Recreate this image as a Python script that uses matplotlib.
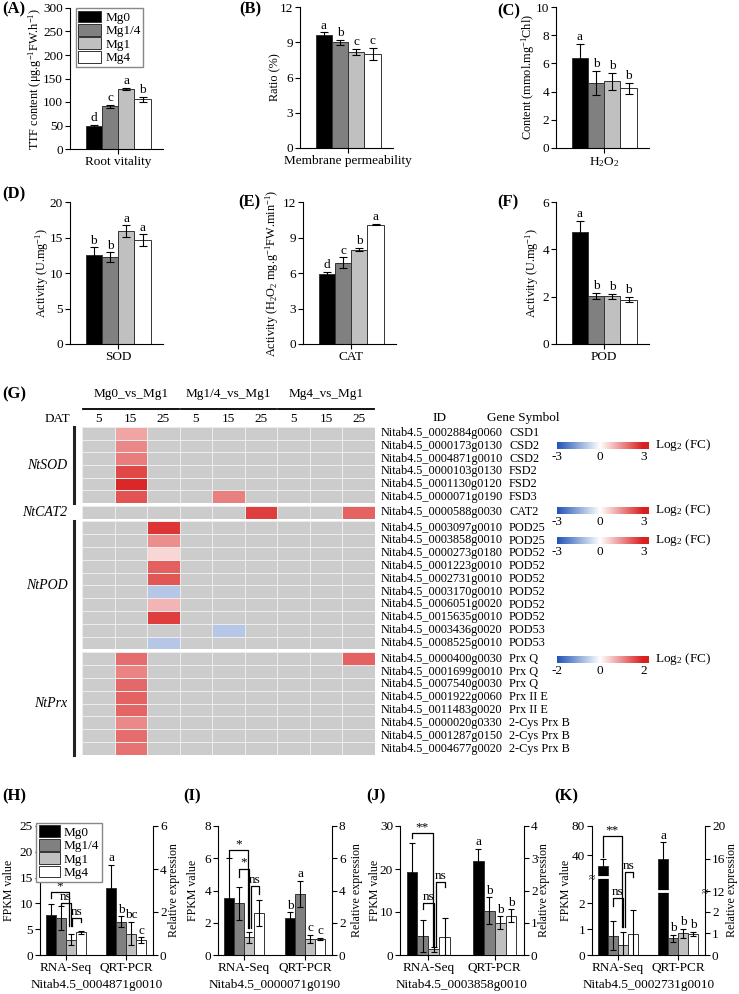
import numpy as np
import matplotlib
matplotlib.use('Agg')
import matplotlib.pyplot as plt
import matplotlib.transforms as mtransforms
from matplotlib.colors import LinearSegmentedColormap, Normalize
from matplotlib.patches import Patch

plt.rcParams['font.family'] = ['Liberation Serif', 'DejaVu Serif']
plt.rcParams['mathtext.fontset'] = 'custom'
plt.rcParams['mathtext.rm'] = 'Liberation Serif'
plt.rcParams['mathtext.it'] = 'Liberation Serif:italic'
plt.rcParams['font.size'] = 9.5
plt.rcParams['axes.linewidth'] = 0.8

# ---- physiology panels (A-F) ----
treatments = ['Mg0', 'Mg1/4', 'Mg1', 'Mg4']
bar_colors = ['#000000', '#808080', '#c0c0c0', '#ffffff']

root_vit = [48, 90.5, 128, 106]
root_err = [3, 3, 1.5, 5]
root_let = ['d', 'c', 'a', 'b']

memb_perm = [9.65, 8.98, 8.2, 8.0]
memb_err = [0.2, 0.2, 0.25, 0.5]
memb_let = ['a', 'b', 'c', 'c']

h2o2 = [6.35, 4.6, 4.72, 4.24]
h2o2_err = [1.05, 0.85, 0.6, 0.4]
h2o2_let = ['a', 'b', 'b', 'b']

sod = [12.5, 12.2, 15.9, 14.6]
sod_err = [1.1, 0.7, 0.8, 0.85]
sod_let = ['b', 'b', 'a', 'a']

cat = [5.9, 6.86, 7.98, 10.09]
cat_err = [0.2, 0.45, 0.15, 0.05]
cat_let = ['d', 'c', 'b', 'a']

pod = [4.74, 2.03, 2.02, 1.88]
pod_err = [0.47, 0.12, 0.1, 0.1]
pod_let = ['a', 'b', 'b', 'b']

# ---- heatmap (G) ----
comparisons = ['Mg0_vs_Mg1', 'Mg1/4_vs_Mg1', 'Mg4_vs_Mg1']
dat_days = ['5', '15', '25']
nan = np.nan

sod_ids = ['0002884g0060', '0000173g0130', '0004871g0010', '0000103g0130', '0001130g0120', '0000071g0190']
sod_sym = ['CSD1', 'CSD2', 'CSD2', 'FSD2', 'FSD2', 'FSD3']
sod_fc = [[nan, 1.2, nan, nan, nan, nan, nan, nan, nan],
          [nan, 1.6, nan, nan, nan, nan, nan, nan, nan],
          [nan, 1.75, nan, nan, nan, nan, nan, nan, nan],
          [nan, 2.45, nan, nan, nan, nan, nan, nan, nan],
          [nan, 2.9, nan, nan, nan, nan, nan, nan, nan],
          [nan, 2.3, nan, nan, 1.7, nan, nan, nan, nan]]

cat_ids = ['0000588g0030']
cat_sym = ['CAT2']
cat_fc = [[nan, nan, nan, nan, nan, 2.6, nan, nan, 2.1]]

pod_ids = ['0003097g0010', '0003858g0010', '0000273g0180', '0001223g0010', '0002731g0010',
           '0003170g0010', '0006051g0020', '0015635g0010', '0003436g0020', '0008525g0010']
pod_sym = ['POD25', 'POD25', 'POD52', 'POD52', 'POD52', 'POD52', 'POD52', 'POD52', 'POD53', 'POD53']
pod_fc = [[nan, nan, 2.7, nan, nan, nan, nan, nan, nan],
          [nan, nan, 1.5, nan, nan, nan, nan, nan, nan],
          [nan, nan, 0.55, nan, nan, nan, nan, nan, nan],
          [nan, nan, 2.15, nan, nan, nan, nan, nan, nan],
          [nan, nan, 2.25, nan, nan, nan, nan, nan, nan],
          [nan, nan, -1.0, nan, nan, nan, nan, nan, nan],
          [nan, nan, 1.0, nan, nan, nan, nan, nan, nan],
          [nan, nan, 2.6, nan, nan, nan, nan, nan, nan],
          [nan, nan, nan, nan, -1.0, nan, nan, nan, nan],
          [nan, nan, -1.0, nan, nan, nan, nan, nan, nan]]

prx_ids = ['0000400g0030', '0001699g0010', '0007540g0030', '0001922g0060', '0011483g0020',
           '0000020g0330', '0001287g0150', '0004677g0020']
prx_sym = ['Prx Q', 'Prx Q', 'Prx Q', 'Prx II E', 'Prx II E', '2-Cys Prx B', '2-Cys Prx B', '2-Cys Prx B']
prx_fc = [[nan, 1.3, nan, nan, nan, nan, nan, nan, 1.4],
          [nan, 1.1, nan, nan, nan, nan, nan, nan, nan],
          [nan, 1.35, nan, nan, nan, nan, nan, nan, nan],
          [nan, 1.4, nan, nan, nan, nan, nan, nan, nan],
          [nan, 1.38, nan, nan, nan, nan, nan, nan, nan],
          [nan, 1.05, nan, nan, nan, nan, nan, nan, nan],
          [nan, 1.3, nan, nan, nan, nan, nan, nan, nan],
          [nan, 1.25, nan, nan, nan, nan, nan, nan, nan]]

# ---- validation panels (H-K): RNA-Seq FPKM and qRT-PCR ----
h_rna = [7.8, 7.1, 3.0, 4.4]
h_rna_err = [2.0, 2.3, 1.1, 0.3]
h_qrt = [3.1, 1.55, 1.0, 0.7]
h_qrt_err = [1.1, 0.25, 0.55, 0.12]
h_let = ['a', 'b', 'bc', 'c']

i_rna = [3.55, 3.2, 1.1, 2.6]
i_rna_err = [2.45, 1.0, 0.35, 0.8]
i_qrt = [2.3, 3.8, 1.0, 1.0]
i_qrt_err = [0.35, 0.8, 0.25, 0.05]
i_let = ['b', 'a', 'c', 'c']

j_rna = [19.3, 4.4, 1.3, 4.3]
j_rna_err = [6.7, 3.8, 0.5, 4.3]
j_qrt = [2.9, 1.37, 1.0, 1.22]
j_qrt_err = [0.4, 0.42, 0.2, 0.2]
j_let = ['a', 'b', 'b', 'b']

k_rna = [25, 0.75, 0.4, 0.8]
k_rna_err = [9.5, 0.55, 0.5, 0.95]
k_qrt = [16.0, 0.77, 1.0, 0.97]
k_qrt_err = [2.0, 0.15, 0.2, 0.1]
k_let = ['a', 'b', 'b', 'b']

W, H = 739, 994
fig = plt.figure(figsize=(W / 100, H / 100), dpi=100)


def box(l, t, r, b):
    return [l / W, 1 - b / H, (r - l) / W, (b - t) / H]


def tag(x, y, s):
    fig.text(x / W, 1 - y / H, s, fontweight='bold', fontsize=12, va='center', ha='left')


def legend_patches():
    return [Patch(facecolor=c, edgecolor='#333333', linewidth=0.7) for c in bar_colors]


def place_ylabel(axis, x):
    axis.set_label_coords(x, 0.5)
    axis.label.set_verticalalignment('center')


def phys_panel(rect, vals, errs, letters, ymax, step, ylabel, xlabel, label_x):
    ax = fig.add_axes(box(*rect))
    x = np.arange(4)
    ax.bar(x, vals, width=1, color=bar_colors, edgecolor='#333333', linewidth=0.7)
    ax.errorbar(x, vals, yerr=errs, fmt='none', ecolor='black', elinewidth=0.8,
                capsize=3, capthick=0.8)
    for xi, v, e, s in zip(x, vals, errs, letters):
        ax.annotate(s, (xi, v + e), xytext=(0, 0.5), textcoords='offset points',
                    ha='center', va='bottom')
    ax.set_xlim(-1.45, 4.25)
    ax.set_ylim(0, ymax)
    ax.set_yticks(np.arange(0, ymax + step / 2, step))
    ax.set_xticks([1.5])
    ax.set_xticklabels([xlabel])
    ax.spines[['top', 'right']].set_visible(False)
    ax.tick_params(direction='out', length=3.5, width=0.8, pad=1.5)
    ax.set_ylabel(ylabel, fontsize=8.8)
    place_ylabel(ax.yaxis, label_x)
    return ax


axA = phys_panel((70, 8, 163, 149), root_vit, root_err, root_let, 300, 50,
                 r'TTF content ($\mathrm{\mu}$g.g$^{\mathrm{-1}}$FW.h$^{\mathrm{-1}}$)', 'Root vitality', -0.37)
axA.legend(handles=legend_patches(), labels=treatments, loc='upper left', bbox_to_anchor=(0.06, 1.0),
           fontsize=9.5, handlelength=1.75, handleheight=1.0, labelspacing=0.0, borderpad=0.2,
           handletextpad=0.3, borderaxespad=0, fancybox=False, edgecolor='#888888', framealpha=1)
phys_panel((300, 7, 393, 148), memb_perm, memb_err, memb_let, 12, 3, 'Ratio (%)',
           'Membrane permeability', -0.263)
phys_panel((556, 7, 649, 148), h2o2, h2o2_err, h2o2_let, 10, 2,
           r'Content (mmol.mg$^{\mathrm{-1}}$Chl)', r'H$_\mathrm{2}$O$_\mathrm{2}$', -0.296)
phys_panel((70, 202, 163, 344), sod, sod_err, sod_let, 20, 5, r'Activity (U.mg$^{\mathrm{-1}}$)', 'SOD', -0.30)
phys_panel((303, 202, 396, 344), cat, cat_err, cat_let, 12, 3,
           r'Activity (H$_\mathrm{2}$O$_\mathrm{2}$ mg.g$^{\mathrm{-1}}$FW.min$^{\mathrm{-1}}$)', 'CAT', -0.328)
phys_panel((556, 202, 649, 344), pod, pod_err, pod_let, 6, 2, r'Activity (U.mg$^{\mathrm{-1}}$)', 'POD', -0.253)

tag(2, 9, '(A)')
tag(239, 9, '(B)')
tag(497, 11, '(C)')
tag(2, 194, '(D)')
tag(238, 202, '(E)')
tag(497, 202, '(F)')
tag(2, 394, '(G)')

# ---- heatmap ----
hm_cmap = LinearSegmentedColormap.from_list('fc', ['#2155b5', '#ffffff', '#d92020']).with_extremes(bad='#cccccc')
hm_fs = 8.8
groups = [('NtSOD', sod_ids, sod_sym, sod_fc, 3, (427, 503), True),
          ('NtCAT2', cat_ids, cat_sym, cat_fc, 3, (505.7, 519), False),
          ('NtPOD', pod_ids, pod_sym, pod_fc, 3, (521.3, 649.3), True),
          ('NtPrx', prx_ids, prx_sym, prx_fc, 2, (652.3, 755), True)]
hm_axes = []
for name, ids, syms, fc, lim, (top, bot), vbar in groups:
    ax = fig.add_axes(box(82, top, 375, bot))
    data = np.array(fc, dtype=float)
    ax.set_facecolor('#cccccc')
    ax.pcolormesh(np.ma.masked_invalid(data), cmap=hm_cmap, norm=Normalize(-lim, lim),
                  edgecolors='#ececec', linewidth=0.6)
    n = data.shape[0]
    ax.set_xlim(0, 9)
    ax.set_ylim(n, 0)
    ax.set_xticks([])
    ax.set_yticks([])
    for s in ax.spines.values():
        s.set_visible(False)
    for i, (gid, sym) in enumerate(zip(ids, syms)):
        ax.text(9.18, i + 0.5, 'Nitab4.5_' + gid, ha='left', va='center', fontsize=hm_fs, clip_on=False)
        ax.text(13.12, i + 0.5, sym, ha='left', va='center', fontsize=hm_fs, clip_on=False)
    ax.text(-0.45, n / 2, name, ha='right', va='center', style='italic', fontsize=10)
    if vbar:
        ax.plot([-0.25, -0.25], [0, n], color='#222222', lw=2.2, clip_on=False)
    hm_axes.append(ax)

axS = hm_axes[0]
for g, comp in enumerate(comparisons):
    axS.text(g * 3 + 1.5, -2.6, comp, ha='center', va='center', fontsize=9.5, clip_on=False)
    axS.plot([g * 3 + 0.03, g * 3 + 2.97], [-1.42, -1.42], color='black', lw=1.3, clip_on=False)
    for d, day in enumerate(dat_days):
        axS.text(g * 3 + d + 0.5, -0.63, day, ha='center', va='center', fontsize=9.5, clip_on=False)
axS.text(-0.77, -0.63, 'DAT', ha='center', va='center', fontsize=9.5, clip_on=False)
axS.text(10.98, -0.7, 'ID', ha='center', va='center', fontsize=9.5, clip_on=False)
axS.text(12.45, -0.7, 'Gene Symbol', ha='left', va='center', fontsize=9.5, clip_on=False)


def fc_bar(top, lim):
    cax = fig.add_axes(box(557, top, 649, top + 7.3))
    xmax = lim + (649 - 643.3) * (2 * lim) / (643.3 - 557)
    grad = np.linspace(-lim, xmax, 300)
    cax.imshow(grad[None, :], extent=[-lim, xmax, 0, 1], aspect='auto', cmap=hm_cmap,
               norm=Normalize(-lim, lim))
    cax.set_xlim(-lim, xmax)
    cax.set_yticks([])
    cax.set_xticks([-lim, 0, lim])
    cax.set_xticklabels(['-%d' % lim, '0', '%d' % lim])
    cax.tick_params(length=0, pad=1.5, labelsize=9.5)
    for s in cax.spines.values():
        s.set_visible(False)
    fig.text(655 / W, 1 - (top + 3.6) / H, r'Log$_\mathrm{2}$ (FC)', va='center', ha='left', fontsize=9.5)


fc_bar(441.7, 3)
fc_bar(506.7, 3)
fc_bar(536.7, 3)
fc_bar(655.7, 2)


# ---- validation panels ----
def brk_scale(lo, hi, k, eps=0.002):
    def fwd(v):
        v = np.asarray(v, dtype=float)
        return np.where(v <= lo, v, np.where(v <= hi, lo + (v - lo) * eps,
                                             lo + (hi - lo) * eps + (v - hi) * k))

    def inv(u):
        u = np.asarray(u, dtype=float)
        u1 = lo + (hi - lo) * eps
        return np.where(u <= lo, u, np.where(u <= u1, lo + (u - lo) / eps, hi + (u - u1) / k))
    return fwd, inv


def expr_panel(rect, rna, rna_e, qrt, qrt_e, letters, lmax, lticks, rmax, rticks, gene, brackets,
               lab_x, lscale=None, rscale=None):
    ax = fig.add_axes(box(*rect))
    ax2 = ax.twinx()
    if lscale:
        ax.set_yscale('function', functions=brk_scale(*lscale))
    if rscale:
        ax2.set_yscale('function', functions=brk_scale(*rscale))
    xr = np.arange(4)
    xq = np.arange(4) + 6.1
    ax.bar(xr, rna, width=1, color=bar_colors, edgecolor='#333333', linewidth=0.7)
    ax.errorbar(xr, rna, yerr=rna_e, fmt='none', ecolor='black', elinewidth=0.8, capsize=2.5, capthick=0.8)
    ax2.bar(xq, qrt, width=1, color=bar_colors, edgecolor='#333333', linewidth=0.7)
    ax2.errorbar(xq, qrt, yerr=qrt_e, fmt='none', ecolor='black', elinewidth=0.8, capsize=2.5, capthick=0.8)
    for xi, v, e, s in zip(xq, qrt, qrt_e, letters):
        ax2.annotate(s, (xi, v + e), xytext=(0, 0.5), textcoords='offset points',
                     ha='center', va='bottom')
    for x1, x2, yt, yb1, yb2, s in brackets:
        ax.plot([x1, x1, x2, x2], [yb1, yt, yt, yb2], color='black', lw=0.9)
        ax.annotate(s, ((x1 + x2) / 2, yt), xytext=(0, 0), textcoords='offset points',
                    ha='center', va='bottom')
    ax.set_xlim(-1.1, 10.3)
    ax.set_ylim(0, lmax)
    ax.set_yticks(lticks)
    ax2.set_ylim(0, rmax)
    ax2.set_yticks(rticks)
    ax.set_xticks([1.5, 7.6])
    ax.set_xticklabels(['RNA-Seq', 'QRT-PCR'], fontsize=9.5)
    ax.spines[['top', 'right']].set_visible(False)
    ax2.spines[['top', 'left', 'bottom']].set_visible(False)
    ax.tick_params(direction='out', length=3.5, width=0.8, pad=1.5, labelsize=9.5)
    ax2.tick_params(direction='out', length=3.5, width=0.8, pad=1.5, labelsize=9.5)
    ax.set_ylabel('FPKM value', fontsize=8.6)
    ax2.set_ylabel('Relative expression', fontsize=8.6)
    place_ylabel(ax.yaxis, lab_x[0])
    place_ylabel(ax2.yaxis, lab_x[1])
    cx = (rect[0] + rect[2]) / 2
    fig.text(cx / W, 1 - 985 / H, gene, ha='center', va='center', fontsize=9.5)
    return ax, ax2


axH, axH2 = expr_panel((40, 826, 153, 955), h_rna, h_rna_err, h_qrt, h_qrt_err, h_let,
                       25, [0, 5, 10, 15, 20, 25], 6, [0, 2, 4, 6], 'Nitab4.5_0004871g0010',
                       [(0, 1.85, 12.2, 11.0, 5.6, '*'), (1, 2.0, 10.0, 9.6, 5.6, 'ns'),
                        (2.15, 3, 7.1, 5.6, 6.3, 'ns')], (-0.272, 1.187))
axH2.legend(handles=legend_patches(), labels=treatments, loc='upper left', bbox_to_anchor=(-0.035, 1.025),
            fontsize=9.5, handlelength=1.6, handleheight=1.0, labelspacing=0.0, borderpad=0.2,
            handletextpad=0.3, borderaxespad=0, fancybox=False, edgecolor='#888888', framealpha=1)

expr_panel((218, 826, 332, 955), i_rna, i_rna_err, i_qrt, i_qrt_err, i_let,
           8, [0, 2, 4, 6, 8], 8, [0, 2, 4, 6, 8], 'Nitab4.5_0000071g0190',
           [(0, 1.85, 6.5, 6.1, 1.7, '*'), (1, 2.0, 5.35, 4.85, 1.7, '*'),
            (2.15, 3, 4.25, 1.7, 3.8, 'ns')], (-0.216, 1.223))

expr_panel((400, 826, 524, 955), j_rna, j_rna_err, j_qrt, j_qrt_err, j_let,
           30, [0, 10, 20, 30], 4, [0, 1, 2, 3, 4], 'Nitab4.5_0003858g0010',
           [(0, 1.9, 28.4, 27.2, 2.2, '**'), (1, 2.05, 12.1, 10.7, 2.2, 'ns'),
            (2.25, 3, 16.9, 2.2, 15.7, 'ns')], (-0.2, 1.163))

k_lbrk = (3.0, 10.5, 0.0284)
k_rbrk = (2.95, 12.0, 0.377)
axK, axK2 = expr_panel((592, 826, 705, 955), k_rna, k_rna_err, k_qrt, k_qrt_err, k_let,
                       80, [0, 1, 2, 40, 80], 20, [0, 1, 2, 12, 16, 20], 'Nitab4.5_0002731g0010',
                       [(0, 1.9, 65.9, 37.7, 1.1, '**'), (1, 2.05, 2.2, 1.9, 1.1, 'ns'),
                        (2.25, 3, 17.3, 1.1, 11.0, 'ns')], (-0.23, 1.235),
                       lscale=k_lbrk, rscale=k_rbrk)
axK.plot([-0.5, 0.5], [k_lbrk[0], k_lbrk[0]], color='white', lw=2)
axK2.plot([6.1 - 0.5, 6.1 + 0.5], [k_rbrk[0], k_rbrk[0]], color='white', lw=2)
axK.text(0, k_lbrk[0], '≈', transform=mtransforms.blended_transform_factory(axK.transAxes, axK.transData),
         ha='center', va='center', fontsize=8)
axK2.text(1, k_rbrk[0], '≈', transform=mtransforms.blended_transform_factory(axK2.transAxes, axK2.transData),
          ha='center', va='center', fontsize=8)

tag(2, 796, '(H)')
tag(183, 796, '(I)')
tag(366, 796, '(J)')
tag(554, 796, '(K)')

fig.savefig('out.png', dpi=100)
